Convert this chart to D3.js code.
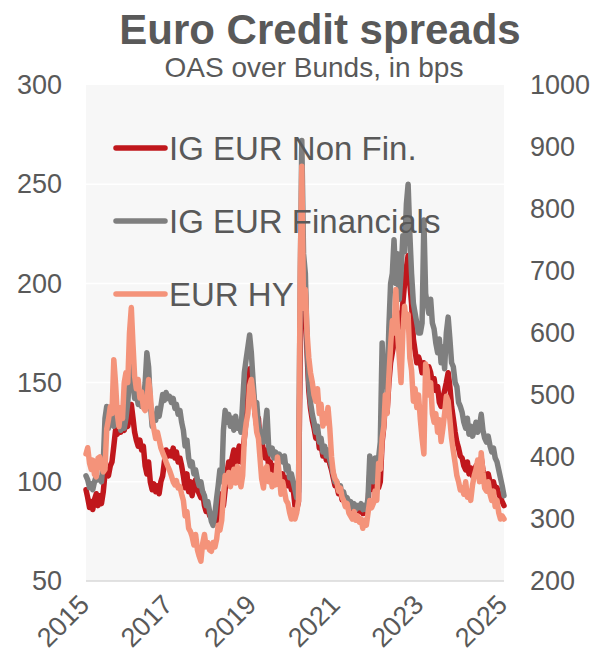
<!DOCTYPE html>
<html>
<head>
<meta charset="utf-8">
<script src="https://cdn.jsdelivr.net/npm/d3@7"></script>
<style>
  body { margin: 0; background: #fff; }
  text { font-family: "Liberation Sans", Arial, sans-serif; fill: #595959; }
</style>
</head>
<body>
<script>
const WIDTH = 593;
const HEIGHT = 653;

// semi-monthly readings, one row per year (1st and 16th of each month)
const nonFin = [
  96, 92, 87, 90, 86, 91, 94, 88, 93, 89, 95, 104, 106, 103, 108, 110, 118, 126, 124, 128, 125, 127, 126, 129,
  128, 133, 139, 132, 125, 121, 118, 121, 116, 118, 108, 104, 110, 100, 96, 99, 95, 98, 94, 100, 103, 110, 116, 113,
  115, 113, 117, 112, 115, 110, 112, 108, 103, 97, 104, 95, 100, 93, 98, 101, 96, 94, 92, 95, 88, 85, 87, 83,
  82, 80, 84, 79, 83, 90, 94, 88, 96, 104, 110, 106, 112, 116, 108, 114, 118, 110, 115, 122, 132, 145, 157, 150,
  145, 135, 128, 132, 120, 122, 115, 112, 116, 108, 110, 105, 108, 102, 104, 99, 101, 104, 100, 102, 98, 100, 96, 97,
  88, 86, 90, 165, 195, 210, 195, 165, 146, 137, 131, 127, 122, 125, 117, 119, 113, 116, 111, 114, 109, 106, 102, 98,
  98, 94, 96, 91, 93, 89, 90, 87, 88, 85, 87, 84, 86, 85, 87, 84, 86, 84, 89, 104, 99, 96, 105, 102,
  97, 100, 120, 128, 140, 135, 150, 160, 165, 170, 175, 180, 185, 178, 190, 200, 208, 214, 200, 190, 172, 166, 160, 163,
  160, 155, 160, 157, 152, 158, 155, 150, 152, 146, 148, 140, 138, 142, 146, 150, 155, 148, 138, 132, 125, 120, 117, 113,
  112, 108, 106, 110, 104, 107, 103, 105, 108, 104, 106, 112, 106, 103, 101, 104, 100, 98, 100, 96, 97, 94, 92, 90,
  88
];

const financials = [
  103, 101, 97, 99, 96, 100, 103, 101, 102, 100, 110, 132, 138, 127, 133, 130, 128, 135, 129, 131, 126, 130, 127, 132,
  140, 152, 163, 150, 142, 145, 139, 143, 138, 141, 150, 165, 158, 140, 128, 134, 131, 137, 133, 138, 144, 141, 145, 142,
  143, 140, 142, 137, 139, 134, 136, 130, 126, 118, 121, 112, 108, 110, 104, 106, 101, 98, 100, 95, 93, 88, 90, 85,
  80, 78, 84, 92, 98, 106, 100, 126, 136, 130, 134, 128, 132, 126, 133, 127, 130, 125, 140, 155, 162, 168, 174, 165,
  150, 138, 140, 128, 125, 122, 120, 128, 136, 118, 114, 117, 112, 115, 111, 114, 112, 110, 113, 106, 108, 102, 104, 100,
  96, 92, 95, 200, 272, 215, 205, 170, 150, 140, 134, 130, 125, 128, 120, 122, 115, 118, 113, 116, 111, 108, 104, 100,
  100, 96, 98, 93, 95, 91, 92, 89, 90, 87, 89, 86, 88, 87, 89, 86, 88, 86, 92, 113, 104, 100, 112, 108,
  112, 120, 170, 150, 160, 145, 178, 200, 205, 222, 200, 215, 192, 205, 224, 216, 240, 250, 225, 205, 190, 185, 180, 175,
  175, 180, 232, 195, 190, 185, 192, 180, 177, 170, 165, 172, 160, 168, 157, 175, 183, 172, 160, 158, 150, 148, 140, 138,
  135, 130, 127, 132, 124, 128, 123, 126, 130, 125, 128, 134, 126, 122, 120, 123, 118, 115, 117, 112, 110, 106, 102, 98,
  93
];

const highYield = [
  405, 415, 390, 380, 395, 372, 368, 398, 400, 385, 376, 380, 445, 460, 481, 470, 557, 520, 470, 449, 480, 462, 520, 536,
  520, 600, 641, 580, 530, 510, 525, 495, 505, 480, 475, 485, 525, 500, 460, 445, 430, 440, 428, 415, 407, 400, 392, 385,
  378, 370, 360, 355, 362, 350, 352, 340, 330, 305, 312, 285, 280, 272, 258, 275, 250, 240, 232, 260, 275, 255, 262, 250,
  248, 262, 255, 268, 290, 282, 298, 340, 370, 360, 375, 352, 368, 380, 358, 385, 365, 352, 370, 430, 455, 470, 515, 525,
  500, 470, 440, 430, 400, 365, 350, 380, 385, 360, 372, 352, 370, 355, 400, 375, 340, 360, 345, 330, 325, 310, 300, 315,
  300, 310, 330, 700, 869, 640, 670, 600, 560, 536, 520, 500, 490, 510, 470, 485, 450, 470, 455, 480, 445, 400, 375, 365,
  360, 345, 350, 335, 330, 320, 325, 310, 305, 300, 312, 298, 305, 295, 300, 285, 298, 290, 310, 330, 318, 325, 345, 330,
  390, 380, 430, 450, 500, 470, 530, 580, 620, 600, 670, 600, 560, 520, 600, 643, 611, 630, 560, 540, 490, 510, 480, 500,
  460, 430, 405, 550, 540, 500, 520, 470, 456, 470, 440, 460, 425, 445, 470, 498, 490, 460, 430, 410, 390, 370, 360, 347,
  350, 340, 360, 335, 345, 330, 355, 370, 380, 395, 360, 407, 375, 350, 345, 360, 340, 330, 345, 320, 330, 310, 300, 305,
  300
];

const dates = d3.range(nonFin.length).map(i => new Date(2015, Math.floor(i / 2), i % 2 ? 16 : 1));

const leftTicks = [50, 100, 150, 200, 250, 300];
const rightTicks = [200, 300, 400, 500, 600, 700, 800, 900, 1000];
const yearTicks = [2015, 2017, 2019, 2021, 2023, 2025];

const series = [
  { name: "IG EUR Non Fin.", values: nonFin, color: "#c0171c", axis: "left" },
  { name: "IG EUR Financials", values: financials, color: "#7f7f7f", axis: "left" },
  { name: "EUR HY", values: highYield, color: "#f4937a", axis: "right" }
];

const margin = { top: 85, right: 89, bottom: 72, left: 86 };
const plotW = WIDTH - margin.left - margin.right;
const plotH = HEIGHT - margin.top - margin.bottom;

const svg = d3.select("body").append("svg")
  .attr("width", WIDTH)
  .attr("height", HEIGHT);

svg.append("text")
  .attr("x", 320).attr("y", 44)
  .attr("text-anchor", "middle")
  .style("font-size", "42px").style("font-weight", "bold")
  .text("Euro Credit spreads");

svg.append("text")
  .attr("x", 314).attr("y", 77)
  .attr("text-anchor", "middle")
  .style("font-size", "28px")
  .text("OAS over Bunds, in bps");

const g = svg.append("g").attr("transform", `translate(${margin.left},${margin.top})`);

const x = d3.scaleTime()
  .domain([new Date(2015, 0, 1), new Date(2025, 0, 1)])
  .range([0, plotW]);
const yL = d3.scaleLinear().domain([50, 300]).range([plotH, 0]);
const yR = d3.scaleLinear().domain([200, 1000]).range([plotH, 0]);

g.append("rect")
  .attr("width", plotW).attr("height", plotH)
  .attr("fill", "#f7f7f7");

// gridlines
g.selectAll(".grid").data(leftTicks.slice(1, -1)).join("line")
  .attr("x1", 0).attr("x2", plotW)
  .attr("y1", d => yL(d)).attr("y2", d => yL(d))
  .attr("stroke", "#ffffff").attr("stroke-width", 1.5);

g.append("line")
  .attr("x1", 0).attr("x2", plotW)
  .attr("y1", plotH).attr("y2", plotH)
  .attr("stroke", "#d9d9d9").attr("stroke-width", 1.5);

// axes
const leftAxis = g.append("g")
  .call(d3.axisLeft(yL).tickValues(leftTicks).tickSize(0).tickPadding(24));
const rightAxis = g.append("g")
  .attr("transform", `translate(${plotW},0)`)
  .call(d3.axisRight(yR).tickValues(rightTicks).tickFormat(d3.format("d")).tickSize(0).tickPadding(26));
[leftAxis, rightAxis].forEach(a => {
  a.select(".domain").remove();
  a.selectAll("text").style("font-size", "27px").attr("fill", "#595959")
    .style("font-family", "'Liberation Sans', Arial, sans-serif");
});

const bottomAxis = g.append("g")
  .attr("transform", `translate(0,${plotH})`)
  .call(d3.axisBottom(x).tickValues(yearTicks.map(yr => new Date(yr, 0, 1)))
    .tickFormat(d3.timeFormat("%Y")).tickSize(0));
bottomAxis.select(".domain").remove();
bottomAxis.selectAll("text")
  .style("font-size", "27px").attr("fill", "#595959")
  .style("font-family", "'Liberation Sans', Arial, sans-serif")
  .attr("text-anchor", "end")
  .attr("y", 0).attr("dy", "0.75em")
  .attr("transform", "translate(-10,11) rotate(-45)");

// lines
series.forEach(s => {
  const yScale = s.axis === "left" ? yL : yR;
  const line = d3.line()
    .x((d, i) => x(dates[i]))
    .y(d => yScale(d));
  g.append("path")
    .datum(s.values)
    .attr("d", line)
    .attr("fill", "none")
    .attr("stroke", s.color)
    .attr("stroke-width", 5.5)
    .attr("stroke-linejoin", "round")
    .attr("stroke-linecap", "round");
});

// legend
const legend = g.selectAll(".legend").data(series).join("g")
  .attr("transform", (d, i) => `translate(30,${63 + i * 73})`);
legend.append("line")
  .attr("x1", 0).attr("x2", 49)
  .attr("stroke", d => d.color).attr("stroke-width", 5.5)
  .attr("stroke-linecap", "round");
legend.append("text")
  .attr("x", 53).attr("dy", "0.36em")
  .style("font-size", "33px")
  .text(d => d.name);
</script>
</body>
</html>
